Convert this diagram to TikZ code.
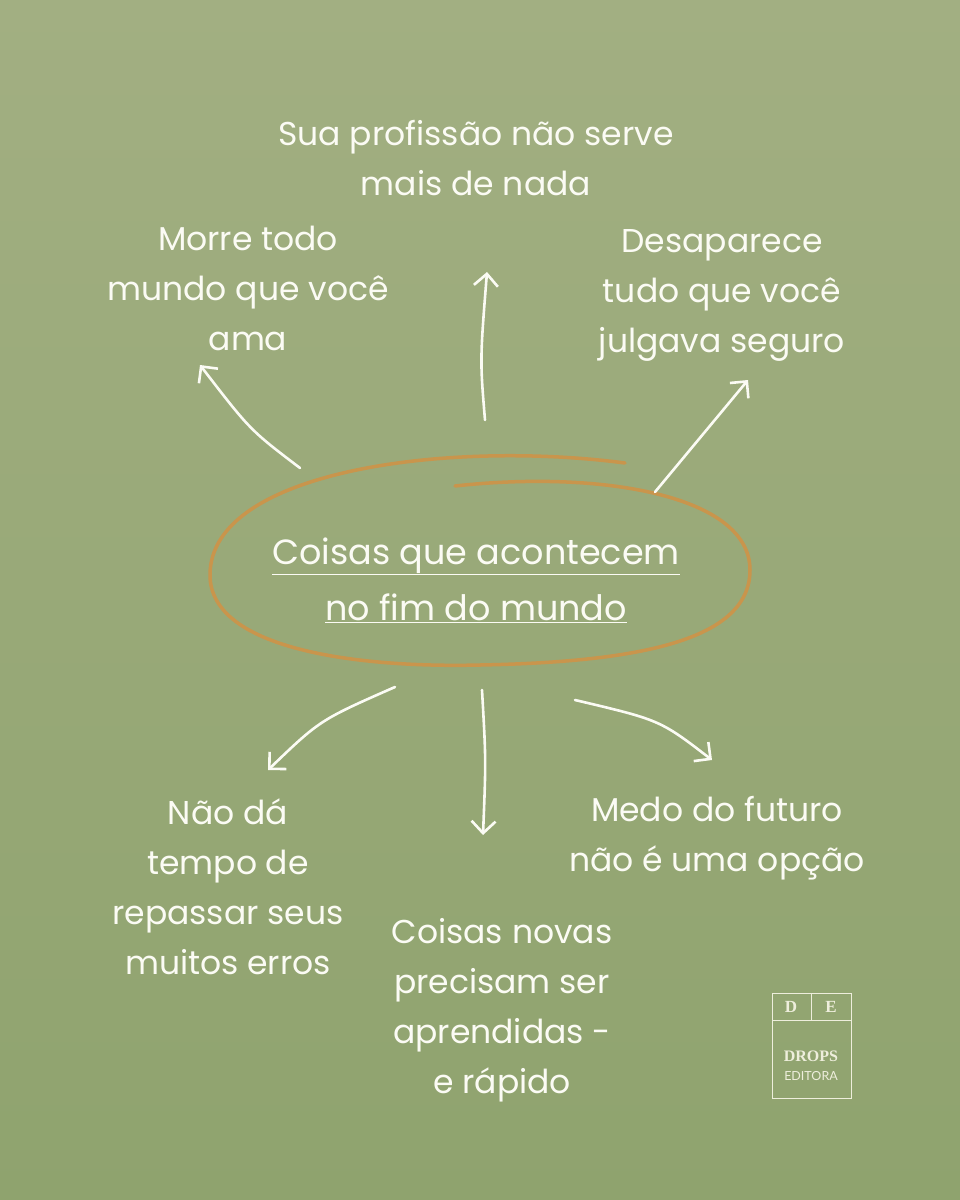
\documentclass[tikz,border=0pt]{standalone}
\usepackage{fontspec}
\setmainfont{Poppins}
\newfontfamily\logoserif{Liberation Serif}
\newfontfamily\logosans{Lato}
\usetikzlibrary{arrows.meta}
\definecolor{bgtop}{HTML}{A2AF82}
\definecolor{bgbot}{HTML}{8FA36E}
\definecolor{ring}{HTML}{C9954C}
\definecolor{chalk}{HTML}{FBFBF4}
\definecolor{logo}{HTML}{EEEEDC}
\tikzset{
 lbl/.style={text=chalk,font=\fontsize{33}{50}\selectfont,align=center,inner sep=0pt},
 arr/.style={draw=chalk,line width=2.6pt,line cap=round,-{Straight Barb[length=12pt,width=24pt,line width=2.6pt]}},
}
\begin{document}
\begin{tikzpicture}[x=1pt,y=-1pt]
\shade[top color=bgtop,bottom color=bgbot] (0,0) rectangle (960,1200);
\useasboundingbox (0,0) rectangle (960,1200);
% ellipse
\draw[ring,line width=3.5pt,line cap=round] (625,463) .. controls (450,440) and (210,470) .. (210,575)
  .. controls (210,650) and (360,668) .. (480,665) .. controls (640,662) and (750,640) .. (750,570)
  .. controls (750,495) and (600,470) .. (455,486);
\node[lbl,font=\fontsize{35}{56}\selectfont] (c) at (476,580) {\underline{Coisas que acontecem}\\\underline{no fim do mundo}};
\node[lbl] (t1) at (476,158) {Sua profissão não serve\\mais de nada};
\node[lbl] (t2) at (248,288) {Morre todo\\mundo que você\\ama};
\node[lbl] (t3) at (722,295) {Desaparece\\tudo que você\\julgava seguro};
\node[lbl] (t4) at (228,887) {Não dá\\tempo de\\repassar seus\\muitos erros};
\node[lbl] (t5) at (717,838) {Medo do futuro\\não é uma opção};
\node[lbl] (t6) at (502,1010) {Coisas novas\\precisam ser\\aprendidas -\\e rápido};
\coordinate (a1s) at (485,420); \coordinate (a1e) at (487,272);
\coordinate (a2s) at (300,468); \coordinate (a2e) at (200,365);
\coordinate (a3s) at (655,492); \coordinate (a3e) at (748,380);
\coordinate (a4s) at (395,687); \coordinate (a4e) at (268,770);
\coordinate (a5s) at (482,690); \coordinate (a5e) at (483,835);
\coordinate (a6s) at (575,700); \coordinate (a6e) at (712,760);
\draw[arr] (a1s) .. controls (480,360) .. (a1e);
\draw[arr] (a2s) .. controls (250,430) .. (a2e);
\draw[arr] (a3s) -- (a3e);
\draw[arr] (a4s) .. controls (320,720) .. (a4e);
\draw[arr] (a5s) .. controls (486,760) .. (a5e);
\draw[arr] (a6s) .. controls (660,720) .. (a6e);
% logo
\draw[logo,line width=1pt] (772,993) rectangle (851,1098);
\draw[logo,line width=1pt] (772,1020) -- (851,1020) (811,993) -- (811,1020);
\node[text=logo,font=\logoserif\bfseries\fontsize{17}{17}\selectfont,inner sep=0pt] (ld) at (791,1007) {D};
\node[text=logo,font=\logoserif\bfseries\fontsize{17}{17}\selectfont,inner sep=0pt] (le) at (831,1007) {E};
\node[text=logo,font=\logoserif\bfseries\fontsize{16}{16}\selectfont,inner sep=0pt] (l1) at (811,1056) {DROPS};
\node[text=logo,font=\logosans\fontsize{12.5}{12.5}\selectfont,inner sep=0pt] (l2) at (811,1076) {EDITORA};
\end{tikzpicture}
\end{document}
